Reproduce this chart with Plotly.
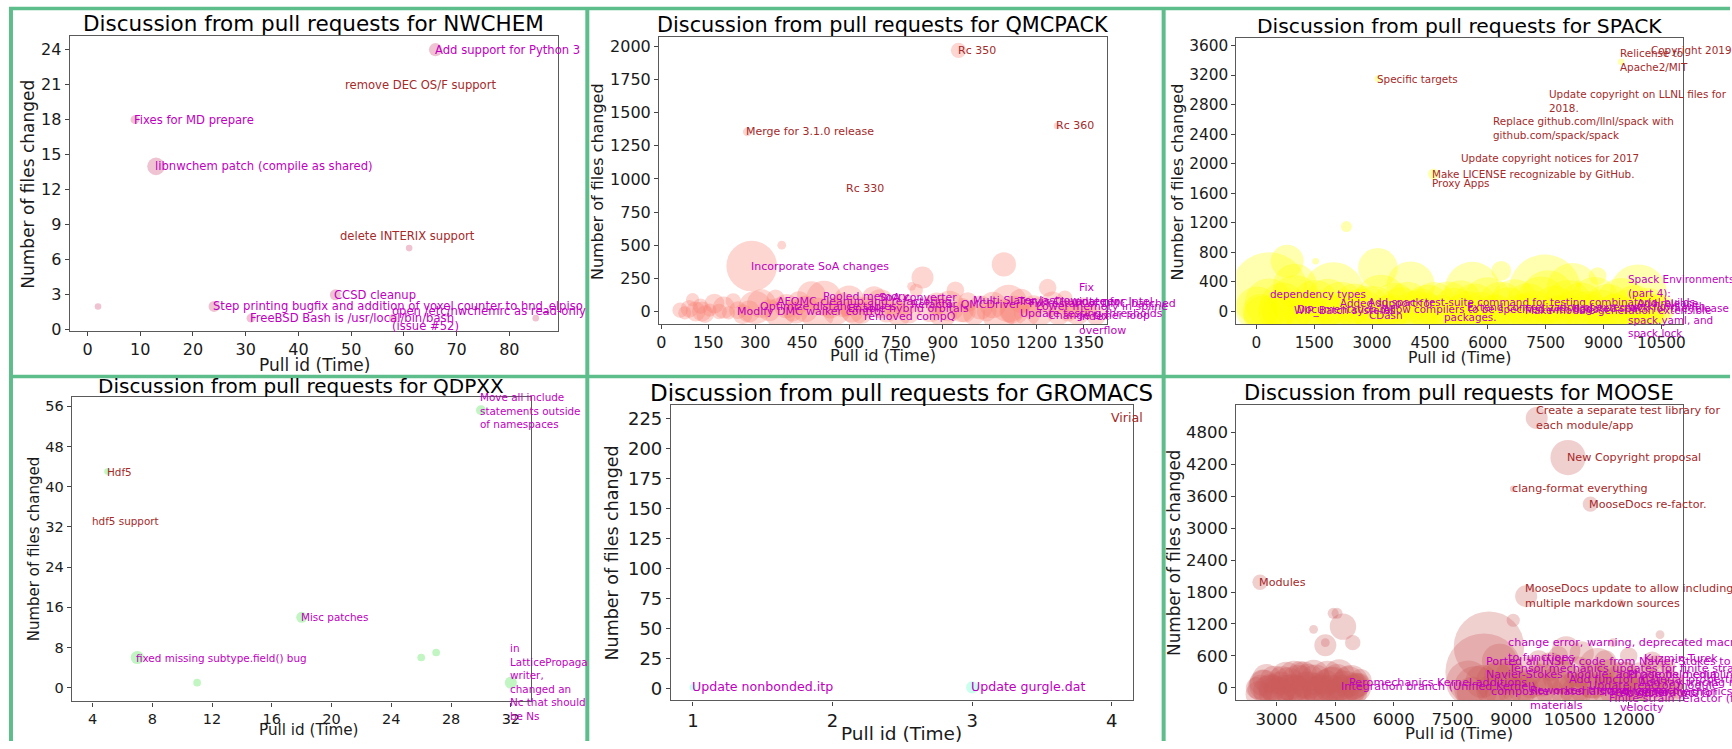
import plotly.graph_objects as go

W, H = 1732, 749
FONT = "DejaVu Sans"
MAGENTA = "#bf00bf"
BROWN = "#a52a2a"
BORDER = "#5dbe8c"
INK = "#1a1a1a"

# ---------------- NWCHEM ----------------
nwchem_pull = [2, 9, 13, 24, 31, 47, 58, 61, 66, 85]
nwchem_files = [2, 18, 14, 2, 1, 3, 1, 7, 24, 1]
nwchem_comments = [3, 4, 8, 5, 4, 5, 4, 3, 6, 3]
nwchem_lab_x = [9, 13, 24, 31, 47, 58, 66, 48.1, 49.1]
nwchem_lab_y = [18, 14, 2, 1, 3, 1, 24, 8.05, 21.0]
nwchem_lab_text = ["Fixes for MD prepare", "libnwchem patch (compile as shared)",
                   "Step printing bugfix and addition of voxel counter to hnd_elpiso",
                   "FreeBSD Bash is /usr/local/bin/bash", "CCSD cleanup",
                   "open /etc/nwchemrc as read-only\n(issue #52)", "Add support for Python 3",
                   "delete INTERIX support", "remove DEC OS/F support"]
nwchem_lab_kind = ["m", "m", "m", "m", "m", "m", "m", "b", "b"]

# ---------------- QMCPACK ----------------
qmc_pull = [60, 75, 90, 100, 110, 125, 140, 155, 170, 185, 200, 215, 230, 245, 260,
            300, 320, 345, 365, 380, 400, 420, 440, 460, 480, 500, 520, 540, 560, 580, 600, 620, 640, 660, 680, 700, 720, 740,
            760, 780, 860, 880, 900, 920, 960, 980, 1000, 1020, 1040, 1060, 1080, 1110, 1130, 1150, 1170, 1190, 1210, 1250,
            1270, 1290, 1310, 1330, 1350, 1370, 1390,
            289, 385, 800, 815, 835, 940, 1095, 1235, 275, 950, 1265,
            130, 280, 430, 610, 790, 970, 1120, 1300]
qmc_files = [10, -10, 20, 90, 0, 40, -20, 10, 60, 0, 30, -10, 80, 10, -20,
             30, 60, 10, 100, -10, 40, 0, 70, 20, 120, -20, 100, 30, 0, 50, 80, 10, -10, 40, 100, 60, 0, 30,
             -20, 50, 20, 60, -10, 40, 10, 70, -20, 30, 0, 50, -30, 60, 10, 80, -10, 40, 0, 60,
             -20, 100, 20, -10, 40, 0, -30,
             343, 500, 190, 160, 256, 160, 355, 180, 1355, 1970, 1400,
             0, 0, 0, 0, 0, 0, 0, 0]
qmc_comments = [7, 6, 8, 6, 9, 7, 8, 6, 9, 7, 10, 6, 7, 8, 9,
                15, 13, 10, 8, 14, 11, 9, 10, 12, 13, 15, 16, 10, 12, 11, 14, 13, 10, 9, 11, 13, 10, 9,
                11, 10, 12, 10, 13, 14, 11, 9, 10, 11, 9, 12, 15, 17, 13, 11, 12, 10, 13, 11,
                10, 7, 9, 11, 8, 7, 9,
                23, 4, 4, 6, 10, 8, 11, 8, 4, 7, 3,
                9, 10, 11, 10, 11, 10, 11, 9]
qmc_lab_x = [275, 950, 1265, 592, 289, 520, 700, 373, 1000, 320, 245, 600, 800, 651, 1140, 1180, 1200, 1150, 1240, 1338]
qmc_lab_y = [1355, 1970, 1400, 931, 343, 114, 108, 77, 80, 40, 0, 20, 50, -37, 75, 60, 40, -15, -30, 17]
qmc_lab_text = ["Merge for 3.1.0 release", "Rc 350", "Rc 360", "Rc 330", "Incorporate SoA changes",
                "Pooled memory", "SoA converter", "AFQMC cleanup and refactoring", "Multi Slater Jastrow",
                "Optimize distance tables", "Modify DMC walker control", "Enable hybrid orbitals",
                "Refactor QMCDriver", "removed compQ", "Travis CI update for Intel",
                "Fix restart of DMC batched", "Lower memory in spline", "Update testing thresholds",
                "Change timer loop", "Fix\ninteger\nindex\noverflow"]
qmc_lab_kind = ["b", "b", "b", "b", "m", "m", "m", "m", "m", "m", "m", "m", "m", "m", "m", "m", "m", "m", "m", "m"]

# ---------------- SPACK ----------------
spack_pull = [20, 180, 330, 520, 690, 860, 1010, 1190, 1340, 1520, 1700, 1850, 2030, 2200, 2380, 2540, 2720, 2890,
              3060, 3230, 3400, 3580, 3750, 3920, 4100, 4270, 4440, 4610, 4790, 4960, 5130, 5300, 5480, 5650, 5820,
              6000, 6170, 6340, 6520, 6690, 6860, 7040, 7210, 7380, 7560, 7730, 7900, 8080, 8250, 8420, 8600, 8770,
              8940, 9110, 9290, 9460, 9630, 9800, 9980, 10150, 10320, 10480,
              330, 800, 3150, 6350, 7480, 8850, 1537, 2335, 8350, 3150, 4590, 9455, 5600, 2000, 9900, 1000, 4000, 8200,
              100, 600, 1400, 2600, 3500, 4400, 5300, 6200, 7000, 7800, 8600, 9300, 10100]
spack_files = [40, -50, 120, 0, 80, -30, 150, 20, -60, 100, 10, 130, -40, 60, 0, 110, -20, 70, 30, 140,
               -50, 90, 0, 120, -30, 60, 20, 100, -40, 80, 10, 140, -20, 50, 0, 120, -60, 90, 30, 110,
               -30, 70, 0, 130, 200, 50, -40, 100, 10, 80, -20, 140, 30, 60, -50, 110, 0, 90, -30, 70, 20, 40,
               280, 680, 590, 550, 280, 480, 680, 1150, 380, 3150, 1860, 3380, 300, 250, 250, 350, 350, 300,
               0, -20, 10, -30, 0, 20, -10, 0, 10, -20, 0, 10, -10]
spack_comments = [20, 18, 22, 17, 21, 19, 23, 18, 20, 22, 19, 21, 17, 23, 20, 18, 22, 19, 21, 24,
                  18, 20, 22, 19, 21, 17, 23, 20, 18, 22, 21, 19, 20, 22, 18, 23, 19, 21, 20, 22,
                  18, 21, 19, 23, 24, 20, 18, 22, 19, 21, 20, 22, 18, 21, 19, 23, 20, 18, 21, 17, 15, 13,
                  35, 15, 18, 9, 33, 8, 3, 5, 3, 3, 5, 3, 25, 28, 26, 20, 22, 24,
                  16, 16, 16, 16, 16, 16, 16, 16, 16, 16, 16, 16, 16]
spack_lab_x = [3150, 9455, 10265, 7620, 6170, 5320, 4590, 4590, 380, 9650, 1010, 1080, 2185, 2921, 2950, 4898,
               3300, 5500, 7000, 8200, 9900]
spack_lab_y = [3150, 3405, 3545, 2850, 2480, 2073, 1862, 1738, 235, 75, 15, 30, 120, 124, -54, -76,
               40, 60, 20, 50, 120]
spack_lab_text = ["Specific targets", "Relicense to\nApache2/MIT", "Copyright 2019",
                  "Update copyright on LLNL files for\n2018.",
                  "Replace github.com/llnl/spack with\ngithub.com/spack/spack",
                  "Update copyright notices for 2017", "Make LICENSE recognizable by GitHub.", "Proxy Apps",
                  "dependency types", "Spack Environments\n(part 4):\nworkflows with\nspack.yaml, and\nspack.lock",
                  "WIP_Batch systems", "Documentation for", "Added support for",
                  "Add spack test-suite command for testing combinatorial builds",
                  "CDash", "packages.", "Allow compilers to be specified with flags",
                  "Extend concretization of external", "Make module generation extensible",
                  "Updated spack for the release", "Add release"]
spack_lab_kind = ["b", "b", "b", "b", "b", "b", "b", "b", "m", "m", "m", "m", "m", "m", "m", "m",
                  "m", "m", "m", "m", "m"]

# ---------------- QDPXX ----------------
qdp_pull = [5, 7, 11, 18, 26, 27, 30, 32]
qdp_files = [43, 6, 1, 14, 6, 7, 55.2, 1]
qdp_comments = [3, 6, 3.5, 5, 3.5, 3.5, 4.5, 5.5]
qdp_lab_x = [5, 4.05, 7, 18, 30, 32]
qdp_lab_y = [43, 33.1, 6, 14, 55.2, 1.08]
qdp_lab_text = ["Hdf5", "hdf5 support", "fixed missing subtype.field() bug", "Misc patches",
                "Move all include\nstatements outside\nof namespaces",
                "in\nLatticePropaga\nwriter,\nchanged an\nNc that should\nbe Ns"]
qdp_lab_kind = ["b", "b", "m", "m", "m", "m"]

# ---------------- GROMACS ----------------
gro_pull = [1, 3]
gro_files = [1, 1]
gro_comments = [3, 5.5]
gro_lab_x = [1, 3, 4.0]
gro_lab_y = [1.4, 1.4, 226]
gro_lab_text = ["Update nonbonded.itp", "Update gurgle.dat", "Virial"]
gro_lab_kind = ["m", "m", "b"]

# ---------------- MOOSE ----------------
moose_pull = [2500, 2650, 2800, 2950, 3100, 3250, 3400, 3550, 3700, 3850, 4000, 4150, 4300, 4450, 4600, 4750, 4900,
              5050, 5150, 3600, 2700, 3000, 3300, 3500, 3800, 4100, 4400, 4700, 5000,
              2582, 3950, 4250, 4250, 4450, 4550, 4700, 4950,
              8100, 8300, 8430, 8600, 8800, 9000, 9200, 9400, 9600, 9800, 10000, 10100, 10300, 10500, 10700, 10900,
              11100, 11200, 11300, 11500, 11700, 11900, 12100, 12300, 12500, 12700, 12900, 13100, 13300, 10400,
              9050, 9380, 9650, 10450, 11020, 9050, 11600, 11800, 12800,
              2600, 2900, 3200, 3500, 3800, 4100, 4400, 4700, 5000,
              7900, 8700, 9700, 10200, 10800, 11400, 12000, 12600, 13000, 9300, 10600, 11900,
              2550, 2750, 2850, 3050, 3150, 3350, 3450, 3650, 3750, 3950, 4050, 4250, 4350, 4550, 4650, 4850, 4950, 5100,
              8000, 8250, 8500, 8750, 9100, 9500, 9900, 10250, 10650, 11050, 11450, 11850, 12250, 12650, 13050]
moose_files = [0, 100, -50, 150, 0, 200, -50, 100, 250, 0, 150, -80, 200, 50, 250, -50, 100, 0, 150,
               300, 50, -100, 80, -60, 120, -20, 60, -80, 40,
               1982, 1100, 800, 850, 1400, 1400, 1150, 850,
               0, 300, 775, 100, -50, 200, 0, 300, -50, 150, 400, 0, 200, -80, 300, 0, 150, 400, -50, 250, 0, 200,
               -50, 150, 0, 300, -50, 100, 0, 700,
               1270, 1722, 5067, 4323, 3450, 3735, 850, 1600, 1000,
               0, 0, 0, 0, 0, 0, 0, 0, 0,
               100, 500, 500, 600, 650, 500, 600, 500, 400, 0, 0, 0,
               -120, 180, 20, -100, 140, 0, 220, -120, 60, 240, -60, 100, -140, 180, 0, 120, -100, 60,
               -80, 120, -40, 200, -100, 100, -60, 220, -100, 120, -40, 180, -80, 100, -60]
moose_comments = [10, 12, 14, 13, 15, 14, 15, 16, 12, 15, 14, 16, 15, 17, 14, 18, 16, 13, 10,
                  10, 14, 16, 15, 14, 16, 15, 16, 14, 12,
                  7, 4, 10, 4, 5, 5, 12, 7,
                  20, 35, 32, 18, 17, 15, 16, 14, 17, 15, 13, 18, 15, 17, 14, 15, 17, 17, 16, 14, 17, 14,
                  15, 16, 13, 15, 12, 11, 10, 13,
                  6, 10, 10, 16, 7, 3, 4, 3, 4,
                  12, 12, 12, 12, 12, 12, 12, 12, 12,
                  20, 16, 10, 9, 11, 10, 8, 9, 7, 14, 14, 14,
                  12, 13, 12, 14, 13, 12, 14, 13, 12, 14, 13, 12, 14, 13, 12, 14, 13, 11,
                  14, 15, 14, 16, 15, 14, 15, 16, 14, 15, 14, 15, 13, 12, 11]
moose_lab_x = [9650, 10450, 9050, 11020, 2582, 9380, 8940, 12415, 8380, 8936, 8380, 4880, 4670, 8520, 9493,
               11530, 11810, 10500, 11000, 12000, 12300, 11400]
moose_lab_y = [5067, 4323, 3735, 3450, 1982, 1722, 707, 557, 496, 371, 260, 93, 31, -62, -190, -200, -225,
               150, 50, 250, 100, -80]
moose_lab_text = ["Create a separate test library for\neach module/app", "New Copyright proposal",
                  "clang-format everything", "MooseDocs re-factor.", "Modules",
                  "MooseDocs update to allow including\nmultiple markdown sources",
                  "change error, warning, deprecated macros\nto functions", "Kuzmin-Turek",
                  "Ported all INSFV code from Navier-Stokes to", "Tensor mechanics updates for finite strain",
                  "Navier-Stokes module: add porous media", "Peromechanics Kernel additions",
                  "Integration branch (Unified Kernel)", "composite materials and tensor mechanics",
                  "Reworked thermal contact\nmaterials", "Finite strain refactor (for review)",
                  "Advection with\nvelocity", "Add functor material properties", "Update reactor module",
                  "Phase field coupling", "Add ray tracing module", "Mesh generators for"]
moose_lab_kind = ["b", "b", "b", "b", "b", "b", "m", "m", "m", "m", "m", "m", "m", "m", "m", "m", "m",
                  "m", "m", "m", "m", "m"]

# ---------------- panel layout (pixels) ----------------
panels = [
    dict(name="NWCHEM", box=(67, 35, 557, 334), xr=[-3.35, 89.3], yr=[-0.1, 25.2],
         xt=[0, 10, 20, 30, 40, 50, 60, 70, 80], yt=[0, 3, 6, 9, 12, 15, 18, 21, 24],
         color="rgba(219,112,147,0.6)", tick=16, title=(311, 23, 21.5), xl=(312, 368, 17), yl=(25, 185, 17),
         lab=11.6, x=nwchem_pull, y=nwchem_files, c=nwchem_comments,
         lx=nwchem_lab_x, ly=nwchem_lab_y, lt=nwchem_lab_text, lk=nwchem_lab_kind),
    dict(name="QMCPACK", box=(658, 36, 1107, 327), xr=[-7, 1424], yr=[-95, 2074],
         xt=[0, 150, 300, 450, 600, 750, 900, 1050, 1200, 1350], yt=[0, 250, 500, 750, 1000, 1250, 1500, 1750, 2000],
         color="rgba(250,128,114,0.46)", tick=16, title=(883, 24, 20.8), xl=(883, 359, 16.2), yl=(597, 183, 16),
         lab=11, x=qmc_pull, y=qmc_files, c=qmc_comments,
         lx=qmc_lab_x, ly=qmc_lab_y, lt=qmc_lab_text, lk=qmc_lab_kind),
    dict(name="SPACK", box=(1237, 37, 1685, 327), xr=[-517, 11065], yr=[-170, 3707],
         xt=[0, 1500, 3000, 4500, 6000, 7500, 9000, 10500], yt=[0, 400, 800, 1200, 1600, 2000, 2400, 2800, 3200, 3600],
         color="rgba(255,255,0,0.45)", tick=15.3, title=(1461, 25, 20.3), xl=(1461, 361, 15.8), yl=(1178, 183, 16),
         lab=10.4, x=spack_pull, y=spack_files, c=spack_comments,
         lx=spack_lab_x, ly=spack_lab_y, lt=spack_lab_text, lk=spack_lab_kind),
    dict(name="QDPXX", box=(69, 401, 530, 709), xr=[2.61, 33.38], yr=[-2.75, 57.8],
         xt=[4, 8, 12, 16, 20, 24, 28, 32], yt=[0, 8, 16, 24, 32, 40, 48, 56],
         color="rgba(144,238,144,0.8)", tick=14.5, title=(299, 390, 20), xl=(307, 738, 15.2), yl=(31, 555, 15),
         lab=10.4, x=qdp_pull, y=qdp_files, c=qdp_comments,
         lx=qdp_lab_x, ly=qdp_lab_y, lt=qdp_lab_text, lk=qdp_lab_kind),
    dict(name="GROMACS", box=(670, 409, 1133, 708), xr=[0.844, 4.15], yr=[-9.9, 236],
         xt=[1, 2, 3, 4], yt=[0, 25, 50, 75, 100, 125, 150, 175, 200, 225],
         color="rgba(127,255,212,0.6)", tick=18, title=(901, 397, 23), xl=(901, 741, 18.5), yl=(611, 559, 17.5),
         lab=12.6, x=gro_pull, y=gro_files, c=gro_comments,
         lx=gro_lab_x, ly=gro_lab_y, lt=gro_lab_text, lk=gro_lab_kind),
    dict(name="MOOSE", box=(1237, 409, 1685, 708), xr=[1979, 13390], yr=[-236, 5308],
         xt=[3000, 4500, 6000, 7500, 9000, 10500, 12000], yt=[0, 600, 1200, 1800, 2400, 3000, 3600, 4200, 4800],
         color="rgba(205,92,92,0.42)", tick=16.5, title=(1460, 397, 21), xl=(1460, 741, 16.5), yl=(1175, 559, 16.8),
         lab=11.2, x=moose_pull, y=moose_files, c=moose_comments,
         lx=moose_lab_x, ly=moose_lab_y, lt=moose_lab_text, lk=moose_lab_kind),
]

SIZE_SCALE = 2.2  # marker diameter (px) per comment

fig = go.Figure()
annotations = []
layout = {}

for i, p in enumerate(panels, start=1):
    sfx = "" if i == 1 else str(i)
    xref, yref = "x" + sfx, "y" + sfx
    x0, y0, x1, y1 = p["box"]
    axis_common = dict(showline=True, mirror=True, linecolor="#5a5a5a", linewidth=1.3,
                       ticks="outside", ticklen=4, tickwidth=1, tickcolor="#444",
                       showgrid=False, zeroline=False,
                       tickfont=dict(family=FONT, size=p["tick"], color=INK))
    layout["xaxis" + sfx] = dict(domain=[x0 / W, x1 / W], range=p["xr"], anchor=yref,
                                 tickvals=p["xt"], ticktext=[str(v) for v in p["xt"]], **axis_common)
    layout["yaxis" + sfx] = dict(domain=[1 - y1 / H, 1 - y0 / H], range=p["yr"], anchor=xref,
                                 tickvals=p["yt"], ticktext=[str(v) for v in p["yt"]], **axis_common)
    fig.add_trace(go.Scatter(x=p["x"], y=p["y"], mode="markers", xaxis=xref, yaxis=yref,
                             marker=dict(size=[v * SIZE_SCALE for v in p["c"]], sizemode="diameter",
                                         color=p["color"], line=dict(width=0)),
                             hoverinfo="skip", showlegend=False))
    tx, ty, ts = p["title"]
    annotations.append(dict(x=tx / W, y=1 - ty / H, xref="paper", yref="paper", showarrow=False,
                            text="Discussion from pull requests for " + p["name"],
                            xanchor="center", yanchor="middle",
                            font=dict(family=FONT, size=ts, color="black")))
    lx, ly, ls = p["xl"]
    annotations.append(dict(x=lx / W, y=1 - ly / H, xref="paper", yref="paper", showarrow=False,
                            text="Pull id (Time)", xanchor="center", yanchor="middle",
                            font=dict(family=FONT, size=ls, color=INK)))
    lx, ly, ls = p["yl"]
    annotations.append(dict(x=lx / W, y=1 - ly / H, xref="paper", yref="paper", showarrow=False,
                            text="Number of files changed", textangle=-90, xanchor="center", yanchor="middle",
                            font=dict(family=FONT, size=ls, color=INK)))
    for ax_, ay_, at_, ak_ in zip(p["lx"], p["ly"], p["lt"], p["lk"]):
        annotations.append(dict(x=ax_, y=ay_, xref=xref, yref=yref, showarrow=False,
                                text=at_.replace("\n", "<br>"), xanchor="left", yanchor="middle",
                                align="left", xshift=-2, borderpad=0,
                                font=dict(family=FONT, size=p["lab"],
                                          color=MAGENTA if ak_ == "m" else BROWN)))

# green grid borders around the cells
shapes = []
def hline(ypx, x0px, x1px):
    shapes.append(dict(type="line", xref="paper", yref="paper", x0=x0px / W, x1=x1px / W,
                       y0=1 - ypx / H, y1=1 - ypx / H, line=dict(color=BORDER, width=3.5)))
def vline(xpx, y0px, y1px):
    shapes.append(dict(type="line", xref="paper", yref="paper", x0=xpx / W, x1=xpx / W,
                       y0=1 - y0px / H, y1=1 - y1px / H, line=dict(color=BORDER, width=4)))
hline(7.5, 6, W)
hline(380, 6, W)
vline(8, 6, H)
vline(586, 6, H)
vline(1164, 6, H)

fig.update_layout(width=W, height=H, margin=dict(l=0, r=0, t=0, b=0),
                  paper_bgcolor="white", plot_bgcolor="white", showlegend=False,
                  annotations=annotations, shapes=shapes, **layout)

fig.write_html("out.html")
